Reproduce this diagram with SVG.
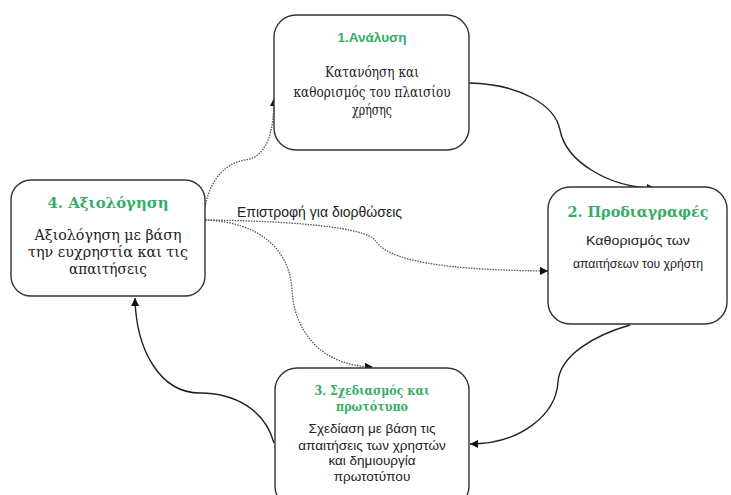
<svg xmlns="http://www.w3.org/2000/svg" width="731" height="495" viewBox="0 0 731 495">
<defs>
<marker id="arr" viewBox="0 0 10 10" refX="10" refY="5" markerWidth="9" markerHeight="8" markerUnits="userSpaceOnUse" orient="auto">
<path d="M0,0 L10,5 L0,10 Z" fill="#111"/>
</marker>
</defs>
<style>
.box{fill:#fff;stroke:#333;stroke-width:1.4}
.title{fill:#35ad68;font-weight:bold;text-anchor:middle}
.ts{font-family:'DejaVu Serif','Liberation Serif',serif;font-size:15px}
.ts3{font-family:'DejaVu Serif','Liberation Serif',serif;font-size:12.5px}
.tsans{font-family:'Liberation Sans',sans-serif;font-size:13.5px}
.body{fill:#222;text-anchor:middle}
.bs{font-family:'DejaVu Serif','Liberation Serif',serif;font-size:15px}
.bsans{font-family:'Liberation Sans',sans-serif;font-size:13.5px}
.solid{fill:none;stroke:#222;stroke-width:1.4}
.dot{fill:none;stroke:#555;stroke-width:1.3;stroke-dasharray:1.5 1.2}
</style>
<rect width="731" height="495" fill="#fff"/>
<g id="connectors">
<path class="solid" d="M469,83 C520,84 555,105 560,130 C566,162 610,188 655,188" marker-end="url(#arr)"/>
<path class="solid" d="M630,325 C595,335 560,355 558,382 C556,415 520,444 470,444" marker-end="url(#arr)"/>
<path class="solid" d="M274,443 C265,410 235,393 200,393 C160,393 136,350 135,298" marker-end="url(#arr)"/>
<path class="dot" d="M205,207 C210,180 225,163 245,160 C268,157 274,130 274,98" marker-end="url(#arr)"/>
<path class="dot" d="M205,220 C300,221 365,228 375,240 C385,256 420,270 548,271" marker-end="url(#arr)"/>
<path class="dot" d="M205,220 C260,222 290,250 292,290 C294,330 320,366 373,367" marker-end="url(#arr)"/>
<text x="237" y="217" font-family="Liberation Sans, sans-serif" font-size="14" fill="#222">Επιστροφή για διορθώσεις</text>
</g>
<g id="n1">
<rect class="box" x="274" y="15" width="195" height="135" rx="22"/>
<text class="title tsans" x="372" y="42">1.Ανάλυση</text>
<text class="body bs" x="372" y="77" textLength="94" lengthAdjust="spacingAndGlyphs">Κατανόηση και</text>
<text class="body bs" x="372" y="97" textLength="157" lengthAdjust="spacingAndGlyphs">καθορισμός του πλαισίου</text>
<text class="body bs" x="372" y="115" textLength="40" lengthAdjust="spacingAndGlyphs">χρήσης</text>
</g>
<g id="n2">
<rect class="box" x="548" y="187" width="179" height="137" rx="22"/>
<text class="title ts" x="638" y="217" textLength="141" lengthAdjust="spacingAndGlyphs">2. Προδιαγραφές</text>
<text class="body bsans" x="638" y="245" textLength="104" lengthAdjust="spacingAndGlyphs">Καθορισμός των</text>
<text class="body bsans" x="638" y="268" textLength="130" lengthAdjust="spacingAndGlyphs">απαιτήσεων του χρήστη</text>
</g>
<g id="n3">
<rect class="box" x="275" y="368" width="194" height="140" rx="22"/>
<text class="title ts3" x="372" y="395" textLength="115" lengthAdjust="spacingAndGlyphs">3. Σχεδιασμός και</text>
<text class="title ts3" x="372" y="411" textLength="72" lengthAdjust="spacingAndGlyphs">πρωτότυπο</text>
<text class="body bsans" x="372" y="433">Σχεδίαση με βάση τις</text>
<text class="body bsans" x="372" y="450">απαιτήσεις των χρηστών</text>
<text class="body bsans" x="372" y="465">και δημιουργία</text>
<text class="body bsans" x="372" y="481">πρωτοτύπου</text>
</g>
<g id="n4">
<rect class="box" x="11" y="180" width="194" height="116" rx="20"/>
<text class="title ts" x="108" y="208" textLength="121" lengthAdjust="spacingAndGlyphs">4. Αξιολόγηση</text>
<text class="body bs" x="108" y="240" textLength="147" lengthAdjust="spacingAndGlyphs">Αξιολόγηση με βάση</text>
<text class="body bs" x="108" y="257" textLength="160" lengthAdjust="spacingAndGlyphs">την ευχρηστία και τις</text>
<text class="body bs" x="108" y="274" textLength="78" lengthAdjust="spacingAndGlyphs">απαιτήσεις</text>
</g>
</svg>
